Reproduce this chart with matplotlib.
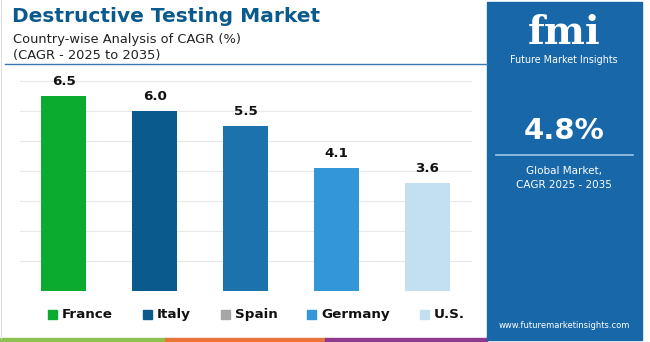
import matplotlib
matplotlib.use("Agg")
import matplotlib.pyplot as plt
from matplotlib.patches import Rectangle
from matplotlib.lines import Line2D

countries = ["France", "Italy", "Spain", "Germany", "U.S."]
cagr = [6.5, 6.0, 5.5, 4.1, 3.6]
bar_colors = ["#0aab2e", "#0b5a8e", "#1c72ad", "#3396d6", "#c3e0f1"]
legend_colors = ["#0aab2e", "#0b5a8e", "#a6a6a6", "#3396d6", "#c3e0f1"]
grid_ticks = [1, 2, 3, 4, 5, 6, 7]
title = "Destructive Testing Market"
subtitle1 = "Country-wise Analysis of CAGR (%)"
subtitle2 = "(CAGR - 2025 to 2035)"
global_cagr = "4.8%"

W, H = 650, 342
fig = plt.figure(figsize=(W / 100, H / 100), dpi=100)
fig.patch.set_facecolor("white")

def fx(px):
    return px / W

def fy(py):
    return 1 - py / H

# Axes
ax_left, ax_right, ax_top, ax_bottom = 20, 472, 75, 291
ax = fig.add_axes([fx(ax_left), fy(ax_bottom), fx(ax_right - ax_left), (ax_bottom - ax_top) / H])
x = list(range(len(countries)))
ax.bar(x, cagr, width=0.495, color=bar_colors, zorder=3)
ax.set_xlim(-0.48, 4.49)
ax.set_ylim(0, (ax_bottom - ax_top) / 30.0)
ax.set_yticks(grid_ticks)
ax.grid(axis="y", color="#e8e8e8", linewidth=0.8, zorder=0)
ax.tick_params(left=False, bottom=False, labelleft=False, labelbottom=False)
for s in ax.spines.values():
    s.set_visible(False)
for xi, v in zip(x, cagr):
    ax.annotate(f"{v:.1f}", (xi, v), xytext=(0, 6), textcoords="offset points",
                ha="center", va="bottom", fontsize=9.7, fontweight="bold",
                color="#111111", family="DejaVu Sans")

# Title
fig.text(fx(12), fy(16), title, fontsize=14.5, fontweight="bold", color="#0b5a8e",
         ha="left", va="center", family="DejaVu Sans")
fig.text(fx(13), fy(39), subtitle1, fontsize=9.4, color="#222222", ha="left", va="center",
         family="DejaVu Sans")
fig.text(fx(13), fy(56), subtitle2, fontsize=9.4, color="#222222", ha="left", va="center",
         family="DejaVu Sans")
fig.add_artist(Line2D([fx(5), fx(487)], [fy(64), fy(64)], color="#3a78b5", linewidth=1.0))
fig.add_artist(Line2D([fx(1), fx(1)], [fy(0), fy(338)], color="#dddddd", linewidth=0.8))

# Legend
leg_sq_x = [48, 143, 221, 307, 420]
for lx, name, c in zip(leg_sq_x, countries, legend_colors):
    fig.add_artist(Rectangle((fx(lx), fy(319)), fx(9), 9 / H, color=c, transform=fig.transFigure))
    fig.text(fx(lx + 14), fy(314.5), name, fontsize=9.7, fontweight="bold", color="#111111",
             ha="left", va="center", family="DejaVu Sans")

# Bottom stripe
for x0, x1, c in [(0, 165, "#8cc152"), (165, 325, "#e8743b"), (325, 487, "#8e3a8e")]:
    fig.add_artist(Rectangle((fx(x0), 0), fx(x1 - x0), 4 / H, color=c, transform=fig.transFigure))

# Right panel
panel_color = "#1767a9"
fig.add_artist(Rectangle((fx(487), fy(340)), fx(155), 338 / H, color=panel_color,
                         transform=fig.transFigure))
cx = fx(564)
fig.text(cx, fy(44), "fmi", fontsize=28, fontweight="bold", color="white", ha="center",
         va="baseline", family="DejaVu Serif")
for sy in range(16, 46, 4):
    fig.add_artist(Line2D([fx(505), fx(625)], [fy(sy), fy(sy)], color=panel_color, linewidth=0.7))
fig.text(cx, fy(60), "Future Market Insights", fontsize=6.9, color="white", ha="center",
         va="center", family="DejaVu Sans")
fig.text(cx, fy(131), global_cagr, fontsize=21, fontweight="bold", color="white",
         ha="center", va="center", family="DejaVu Sans")
fig.add_artist(Line2D([fx(496), fx(633)], [fy(155), fy(155)], color="#9cc6ea", linewidth=1.2))
fig.text(cx, fy(171), "Global Market,", fontsize=7.5, color="white", ha="center",
         va="center", family="DejaVu Sans")
fig.text(cx, fy(184.5), "CAGR 2025 - 2035", fontsize=7.5, color="white", ha="center",
         va="center", family="DejaVu Sans")
fig.text(cx, fy(326), "www.futuremarketinsights.com", fontsize=6.0, color="white",
         ha="center", va="center", family="DejaVu Sans")

fig.savefig("out.png", dpi=100, facecolor="white")
